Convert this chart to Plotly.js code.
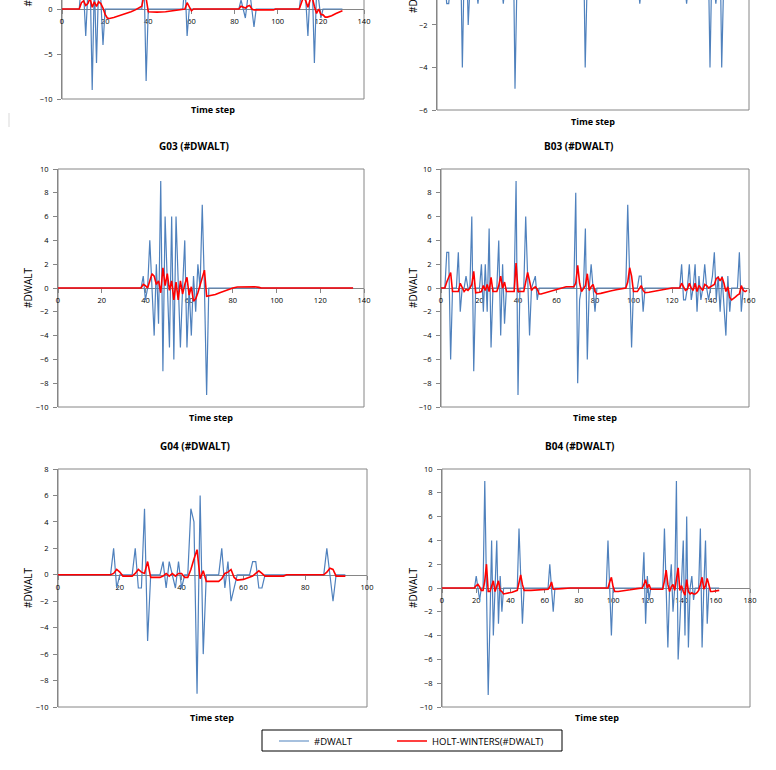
<!DOCTYPE html>
<html>
<head>
<meta charset="utf-8">
<script src="https://cdn.plot.ly/plotly-3.0.1.min.js"></script>
<style>
html,body{margin:0;padding:0;overflow:hidden;background:#fff;width:776px;height:770px;}
#chart{position:absolute;left:0;top:-140px;width:776px;height:910px;}
</style>
</head>
<body>
<div id="chart"></div>
<script>
// ---------- DATA: [time step, value] ----------
const seriesNames = ['#DWALT', 'HOLT-WINTERS(#DWALT)'];
const panelTitles = ['', '', 'G03 (#DWALT)', 'B03 (#DWALT)', 'G04 (#DWALT)', 'B04 (#DWALT)'];
const xTitle = 'Time step';
const yTitle = '#DWALT';

// top-left panel (cut off at the top of the picture)
const g02_dwalt = [[0,0],[8,0],[9,3],[10,2],[11,-3],[12,2],[13,4],[14,-9],[15,3],[16,-6],[17,3],[18,1],[19,-4],[20,0],[37,0],[38,4],[39,-8],[40,0],[56,0],[57,3],[58,-3],[59,0],[82,0],[83,1],[84,0],[85,-1],[86,1],[87,2],[88,0],[89,-2],[90,0],[110,0],[111,2],[112,3],[113,1],[114,-3],[115,2],[116,3],[117,-6],[118,2],[119,1],[120,-1],[121,0],[130,0]];
const g02_hw = [[0,0],[8,0],[9,0.7],[10,0.9],[11,0.4],[12,0.6],[13,1.2],[14,0.2],[15,0.8],[16,0.3],[17,0.8],[18,0.6],[19,0.1],[20,-0.6],[21,-1.0],[22,-1.05],[24,-0.95],[26,-0.8],[28,-0.6],[30,-0.45],[32,-0.3],[34,-0.1],[36,0.2],[37,0.3],[38,1.5],[39,1.2],[40,-0.3],[44,-0.35],[48,-0.3],[52,-0.2],[55,-0.05],[57,0],[58,0.7],[59,0.2],[60,-0.2],[61,0],[82,0],[83,0.3],[84,0.2],[85,0.1],[86,0.3],[87,0.4],[88,0],[89,-0.1],[98,-0.1],[99,0],[110,0],[111,0.8],[112,1.4],[113,0.9],[114,0.2],[115,1.0],[116,1.3],[117,0.3],[118,-0.5],[119,0],[120,-0.6],[121,-0.65],[122,-0.9],[123,-0.9],[125,-0.75],[127,-0.5],[129,-0.3],[130,-0.2]];

// top-right panel (cut off at the top of the picture)
const b02_dwalt = [[0,0],[4,0],[5,-1],[6,-1],[7,0],[12,2],[13,-4],[14,1],[15,2],[16,-2],[17,0],[20,0],[21,-1],[22,0],[33,0],[34,-1],[35,0],[38,0],[39,3],[40,-5],[41,0],[74,0],[75,3],[76,-4],[77,0],[103,0],[104,-1],[105,0],[127,0],[128,-1],[129,0],[138,0],[139,2],[140,-4],[141,1],[142,0],[143,-1],[144,0],[145,3],[146,-4],[147,0],[160,0]];
const b02_hw = [[0,0],[4,0],[5,-0.3],[6,-0.4],[8,-0.3],[12,0.3],[13,-0.5],[15,0.4],[16,-0.3],[18,-0.2],[21,-0.3],[25,-0.2],[34,-0.3],[38,-0.1],[39,0.6],[40,-0.6],[45,-0.5],[55,-0.3],[65,-0.1],[72,0],[75,0.6],[76,-0.5],[85,-0.3],[100,-0.05],[104,-0.3],[110,-0.2],[128,-0.3],[135,-0.1],[139,0.4],[140,-0.5],[145,0.5],[146,-0.6],[155,-0.3],[160,-0.2]];

// G03
const g03_dwalt = [[0,0],[38,0],[39,1],[40,-1],[41,0],[42,4],[43,0],[44,-4],[45,2],[46,-3],[47,9],[48,-7],[49,6],[50,0],[51,-5],[52,6],[53,-6],[54,6],[55,0],[56,-5],[57,0],[58,4],[59,-5],[60,0],[61,-4],[62,1],[63,-2],[64,2],[65,0],[66,7],[67,0],[68,-9],[69,0],[135,0]];
const g03_hw = [[0,0],[38,0],[39,0.3],[40,0.2],[41,0],[42,0.6],[43,1.2],[44,1.0],[45,0.3],[46,0.6],[47,-0.4],[48,1.7],[49,0.2],[50,1.2],[51,-0.2],[52,0.6],[53,-1.0],[54,0.5],[55,-1.0],[56,0.6],[57,-0.5],[58,0.3],[59,0.9],[60,-0.6],[61,0.1],[62,-1.1],[63,-0.9],[64,-0.4],[65,0.3],[66,1.0],[67,1.5],[68,-0.7],[70,-0.65],[72,-0.55],[74,-0.4],[76,-0.25],[78,-0.12],[80,0],[82,0.08],[84,0.1],[90,0.1],[92,0.05],[93,0],[135,0]];

// B03
const b03_dwalt = [[0,0],[2,0],[3,3],[4,3],[5,-6],[6,0],[8,0],[9,3],[10,-2],[11,0],[12,0],[13,1],[14,0],[15,0],[16,6],[17,-7],[18,0],[20,0],[21,2],[22,-2],[23,2],[24,-2],[25,5],[26,-5],[27,0],[29,0],[30,4],[31,-4],[32,2],[33,-3],[34,0],[38,0],[39,9],[40,-9],[41,0],[43,0],[44,6],[45,0],[46,-4],[47,0],[49,1],[50,-1],[51,0],[69,0],[70,8],[71,-8],[72,-1],[73,0],[74,0],[75,5],[76,-6],[77,0],[78,2],[79,0],[80,-2],[81,0],[96,0],[97,7],[98,0],[99,-5],[100,0],[102,0],[103,1],[104,1],[105,-2],[106,0],[124,0],[125,2],[126,-1],[127,-1],[128,0],[129,2],[130,-1],[131,0],[132,2],[133,-2],[134,1],[135,-1],[136,0],[137,2],[138,0],[139,-1],[140,0],[141,1],[142,3],[143,-1],[144,1],[145,-2],[146,1],[147,-2],[148,-4],[149,1],[150,-2],[151,0],[154,0],[155,3],[156,-2],[157,0],[158,0]];
const b03_hw = [[0,0],[2,0],[3,0.5],[4,0.9],[5,1.3],[6,-0.3],[9,-0.3],[10,0.4],[11,0.1],[12,-0.3],[13,-0.1],[14,-0.2],[15,0],[16,0.3],[17,1.4],[18,-0.4],[20,-0.35],[21,-0.3],[22,0.2],[23,-0.2],[24,0.3],[25,-0.3],[26,0.9],[27,-0.3],[29,-0.3],[30,0.2],[31,1.0],[32,0],[33,0.5],[34,-0.3],[38,-0.3],[39,2.1],[40,-0.3],[43,-0.3],[44,0.5],[45,1.3],[46,0.6],[47,-0.2],[48,0],[49,0.1],[50,-0.1],[51,-0.5],[52,-0.5],[54,-0.4],[56,-0.3],[58,-0.2],[60,-0.1],[62,0],[65,0.1],[69,0.1],[70,0.4],[71,1.9],[72,0.4],[73,-0.3],[74,0],[75,0.2],[76,1.2],[77,-0.2],[78,0.1],[79,0.3],[80,-0.3],[81,-0.5],[83,-0.45],[85,-0.35],[88,-0.25],[91,-0.15],[94,-0.05],[96,0],[97,0.5],[98,1.7],[99,1.0],[100,-0.3],[102,-0.3],[103,0],[104,0.2],[105,-0.2],[106,-0.4],[108,-0.35],[111,-0.25],[114,-0.15],[117,-0.05],[120,0],[124,0],[125,0.4],[126,0.1],[127,-0.2],[128,-0.1],[129,0.4],[130,0],[131,-0.2],[132,0.4],[133,-0.3],[134,0.2],[135,0],[136,-0.2],[137,0.3],[138,0.2],[139,0],[140,0.1],[141,0.2],[142,0.3],[143,0.8],[144,0.9],[145,0.6],[146,0.9],[147,0.4],[148,-0.3],[149,0.1],[150,-0.8],[151,-1.0],[152,-0.9],[153,-0.75],[154,-0.6],[155,-0.5],[156,0.2],[157,-0.2],[158,-0.3],[159,-0.2]];

// G04
const g04_dwalt = [[0,0],[17,0],[18,2],[19,-1],[20,0],[24,0],[25,2],[26,-1],[27,-1],[28,5],[29,-5],[30,0],[33,0],[34,1],[35,-1],[36,1],[37,0],[38,-1],[39,1],[40,-1],[41,0],[42,0],[43,5],[44,4],[45,-9],[46,6],[47,-6],[48,0],[52,0],[53,2],[54,-1],[55,1],[56,-2],[57,-1],[58,0],[62,0],[63,1],[64,1],[65,-1],[66,-1],[67,0],[86,0],[87,2],[88,0],[89,-2],[90,0],[93,0]];
const g04_hw = [[0,0],[17,0],[18,0.1],[19,0.4],[20,0.2],[21,-0.1],[24,-0.1],[25,0.1],[26,0.4],[27,0.2],[28,0.1],[29,1.0],[30,-0.2],[33,-0.2],[34,-0.1],[35,0.1],[36,-0.1],[37,0.1],[38,-0.1],[39,0.1],[40,0.1],[41,-0.2],[42,-0.2],[43,0.4],[44,1.2],[45,1.9],[46,-0.3],[47,0.3],[48,-0.5],[52,-0.5],[53,-0.3],[54,0.1],[55,0.2],[56,0.4],[57,-0.2],[58,-0.4],[60,-0.35],[62,-0.2],[63,-0.1],[64,0.1],[65,0.3],[66,0.1],[67,-0.1],[73,-0.1],[74,0],[86,0],[87,0.2],[88,0.5],[89,0.4],[90,-0.1],[93,-0.1]];

// B04
const b04_dwalt = [[0,0],[19,0],[20,1],[21,0],[22,-1],[23,0],[24,0],[25,9],[26,0],[27,-9],[28,-3],[29,4],[30,-4],[31,1],[32,4],[33,-3],[34,1],[35,-2],[36,0],[44,0],[45,5],[46,1],[47,-3],[48,0],[62,0],[63,2],[64,0],[65,-2],[66,0],[96,0],[97,4],[98,0],[99,-4],[100,0],[117,0],[118,3],[119,-3],[120,1],[121,-1],[122,0],[129,0],[130,5],[131,0],[132,-5],[133,0],[134,2],[135,-2],[136,0],[137,9],[138,-6],[139,-3],[140,0],[141,4],[142,-4],[143,6],[144,-5],[145,0],[146,1],[147,-1],[148,0],[150,0],[151,5],[152,-5],[153,0],[154,4],[155,-3],[156,0],[162,0]];
const b04_hw = [[0,0],[19,0],[20,0.2],[21,0.3],[22,0.1],[23,-0.2],[24,-0.2],[25,0.6],[26,2.0],[27,-0.3],[28,-0.3],[29,0.1],[30,0.6],[31,-0.3],[32,0.1],[33,0.6],[34,-0.2],[35,-0.3],[36,-0.5],[38,-0.45],[41,-0.35],[44,-0.2],[45,0.4],[46,1.1],[47,0.3],[48,-0.2],[52,-0.2],[58,-0.15],[62,-0.1],[63,0.1],[64,0.5],[65,-0.1],[66,-0.1],[70,-0.05],[75,0],[97,0],[98,0.5],[99,0.9],[100,0.1],[101,-0.3],[103,-0.3],[106,-0.25],[110,-0.15],[114,-0.05],[117,0],[118,0.3],[119,0.7],[120,0],[121,0.3],[122,-0.1],[129,-0.1],[130,0.6],[131,1.5],[132,0.3],[133,-0.3],[134,0.1],[135,0.3],[136,-0.2],[137,1.0],[138,1.7],[139,-0.2],[140,0.2],[141,-0.3],[142,-0.6],[143,0.7],[144,-0.3],[145,-0.5],[146,-0.4],[147,-0.5],[148,-0.5],[149,-0.4],[150,-0.2],[151,0.3],[152,0.9],[153,-0.1],[154,0.2],[155,0.8],[156,0.3],[157,-0.3],[158,-0.3],[160,-0.25],[162,-0.2]];

// ---------- LAYOUT (pixel boxes in page coordinates) ----------
const W = 776, H = 910, OFF = 140;
const PX = v => v / W;
const PY = v => 1 - (v + OFF) / H;
const FONT = 'Open Sans, Liberation Sans, sans-serif';
const AX = '#868686';

const panels = [
  {blue: g02_dwalt, red: g02_hw, xr: [0,140], yr: [-10,15], ydt: 5, box: [62,364,-126,99], tstep: [213,109], ytx: 28},
  {blue: b02_dwalt, red: b02_hw, xr: [0,160], yr: [-6,5],  ydt: 2, box: [437,749,-124,110], tstep: [593,121], ytx: 413},
  {blue: g03_dwalt, red: g03_hw, xr: [0,140], yr: [-10,10], ydt: 2, box: [58,364,169,407], tstep: [211,417], ytx: 28, tpos: [194,146]},
  {blue: b03_dwalt, red: b03_hw, xr: [0,160], yr: [-10,10], ydt: 2, box: [441,749,169,407], tstep: [595,417], ytx: 413, tpos: [578,146]},
  {blue: g04_dwalt, red: g04_hw, xr: [0,100], yr: [-10,8],  ydt: 2, box: [58,367,469,707], tstep: [212,717], ytx: 28, tpos: [195,446]},
  {blue: b04_dwalt, red: b04_hw, xr: [0,180], yr: [-10,10], ydt: 2, box: [442,750,469,707], tstep: [597,717], ytx: 413, tpos: [579,446]}
];

const legendBase = {
  orientation: 'h', y: PY(741), xanchor: 'left', yanchor: 'middle',
  borderwidth: 0, bgcolor: 'rgba(0,0,0,0)',
  font: {size: 9.5, family: FONT, color: '#000'}, itemwidth: 30
};

const traces = [];
const layout = {
  width: W, height: H, autosize: false,
  margin: {l:0, r:0, t:0, b:0},
  paper_bgcolor: '#fff', plot_bgcolor: '#fff',
  font: {family: FONT, color: '#000'},
  showlegend: true,
  legend: Object.assign({}, legendBase, {x: PX(274)}),
  legend2: Object.assign({}, legendBase, {x: PX(392)}),
  shapes: [
    // legend frame
    {type: 'rect', xref: 'paper', yref: 'paper', x0: PX(262), x1: PX(562), y0: PY(751), y1: PY(730),
     line: {color: '#000', width: 1}, fillcolor: 'rgba(0,0,0,0)', layer: 'below'},
    // faint stray mark at the left edge of the page
    {type: 'line', xref: 'paper', yref: 'paper', x0: PX(9), x1: PX(9), y0: PY(127), y1: PY(113),
     line: {color: '#d9d9d9', width: 1}}
  ],
  annotations: []
};

panels.forEach((p, i) => {
  const n = i + 1;
  const sx = n === 1 ? '' : String(n);
  const [xl, xr_, yt, yb] = p.box;
  const yd = [PY(yb), PY(yt)];
  const zeroPos = yd[0] + (0 - p.yr[0]) / (p.yr[1] - p.yr[0]) * (yd[1] - yd[0]);
  layout['xaxis' + sx] = {
    domain: [PX(xl), PX(xr_)], range: p.xr, anchor: 'free', position: zeroPos,
    showline: true, linecolor: AX, linewidth: 1, ticks: 'outside', ticklen: 4, tickcolor: AX,
    tick0: 0, dtick: 20, tickfont: {size: 7.5, family: FONT, color: '#000'},
    showgrid: false, zeroline: false, layer: 'below traces', fixedrange: true, ticklabelstandoff: 1
  };
  layout['yaxis' + sx] = {
    domain: yd, range: p.yr, anchor: 'x' + sx,
    showline: true, linecolor: AX, linewidth: 1, ticks: 'outside', ticklen: 4, tickcolor: AX,
    tick0: 0, dtick: p.ydt, tickfont: {size: 7.5, family: FONT, color: '#000'},
    showgrid: false, zeroline: false, layer: 'below traces', fixedrange: true, ticklabelstandoff: 3
  };
  layout.shapes.push({type: 'rect', xref: 'x' + sx + ' domain', yref: 'y' + sx + ' domain',
    x0: 0, x1: 1, y0: 0, y1: 1, line: {color: AX, width: 1}, layer: 'below'});
  traces.push({type: 'scatter', mode: 'lines', name: seriesNames[0],
    x: p.blue.map(d => d[0]), y: p.blue.map(d => d[1]),
    xaxis: 'x' + sx, yaxis: 'y' + sx, line: {color: '#4F81BD', width: 1.2},
    showlegend: n === 1, legend: 'legend', legendgroup: 'a', hoverinfo: 'skip'});
  traces.push({type: 'scatter', mode: 'lines', name: seriesNames[1],
    x: p.red.map(d => d[0]), y: p.red.map(d => d[1]),
    xaxis: 'x' + sx, yaxis: 'y' + sx, line: {color: '#FF0000', width: 1.6},
    showlegend: n === 1, legend: 'legend2', legendgroup: 'b', hoverinfo: 'skip'});
  if (panelTitles[i]) {
    layout.annotations.push({xref: 'paper', yref: 'paper', x: PX(p.tpos[0]), y: PY(p.tpos[1]),
      xanchor: 'center', yanchor: 'middle', showarrow: false,
      text: '<b>' + panelTitles[i] + '</b>', font: {size: 10, family: FONT, color: '#000'}});
  }
  layout.annotations.push({xref: 'paper', yref: 'paper', x: PX(p.tstep[0]), y: PY(p.tstep[1]),
    xanchor: 'center', yanchor: 'middle', showarrow: false,
    text: '<b>' + xTitle + '</b>', font: {size: 9, family: FONT, color: '#000'}});
  layout.annotations.push({xref: 'paper', yref: 'paper', x: PX(p.ytx), y: PY((yt + yb) / 2),
    xanchor: 'center', yanchor: 'middle', showarrow: false, textangle: -90,
    text: yTitle, font: {size: 10, family: FONT, color: '#000'}});
});

Plotly.newPlot('chart', traces, layout, {displayModeBar: false, staticPlot: true});
</script>
</body>
</html>
